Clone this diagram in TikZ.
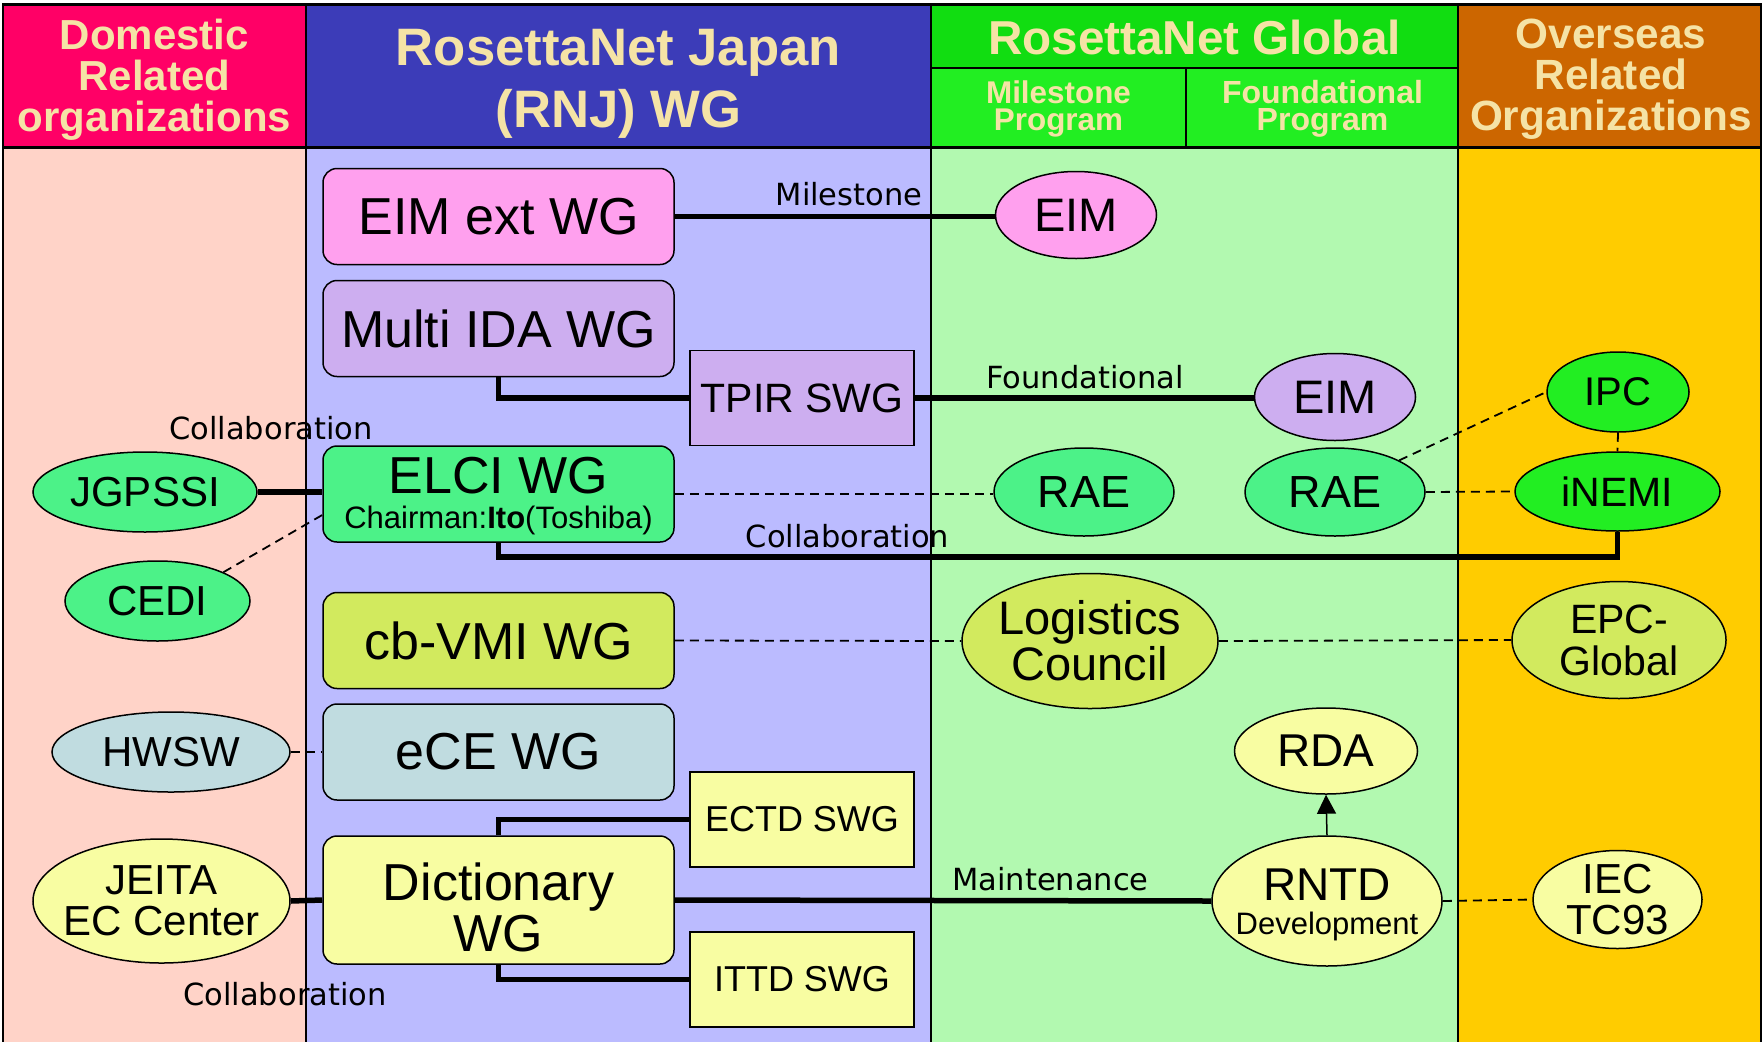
\documentclass[tikz,border=0pt]{standalone}
\usepackage{fontspec}
\setmainfont{Liberation Sans}
\newfontfamily\lblfont{DejaVu Sans}
\usetikzlibrary{shapes.geometric, arrows.meta}

\newcommand{\fsz}[2]{\fontsize{#1}{#2}\selectfont}

\definecolor{domhead}{HTML}{FF0066}
\definecolor{rnjhead}{HTML}{3C3CB8}
\definecolor{rnghead}{HTML}{11DD11}
\definecolor{rngsub}{HTML}{22EE22}
\definecolor{ovhead}{HTML}{CC6600}
\definecolor{hdrtext}{HTML}{F5E3A6}
\definecolor{dombody}{HTML}{FFD3C8}
\definecolor{rnjbody}{HTML}{BBBBFF}
\definecolor{rngbody}{HTML}{B2F9B0}
\definecolor{ovbody}{HTML}{FFCC00}
\definecolor{eimpink}{HTML}{FFA0EE}
\definecolor{idalilac}{HTML}{CDAEF0}
\definecolor{elcigreen}{HTML}{4CF288}
\definecolor{inemigreen}{HTML}{22EE22}
\definecolor{vmiolive}{HTML}{D2EA5E}
\definecolor{eceblue}{HTML}{C0DCE0}
\definecolor{dictyellow}{HTML}{F8FDA2}

\tikzset{
  wgbox/.style={draw, line width=1.5pt, rounded corners=14pt, minimum width=351pt,
    minimum height=96pt, font=\fsz{52}{52}},
  swgbox/.style={draw, line width=1.5pt, minimum width=224pt, minimum height=95pt},
  org/.style 2 args={draw, ellipse, line width=1.5pt, inner sep=0pt, align=center,
    minimum width=#1, minimum height=#2},
  link/.style={line width=5.5pt},
  rel/.style={line width=1.8pt, dash pattern=on 9pt off 6pt},
  lbl/.style={font=\lblfont\fsz{30.5}{36}},
  hdr/.style={text=hdrtext, align=center, font=\bfseries\fsz{42}{41}},
}

\begin{document}
\begin{tikzpicture}[x=1pt, y=-1pt]
\useasboundingbox (0,0) rectangle (1763,1042);

% column backgrounds
\fill[dombody] (3,147) rectangle (306,1042);
\fill[rnjbody] (306,147) rectangle (931,1042);
\fill[rngbody] (931,147) rectangle (1458,1042);
\fill[ovbody] (1458,147) rectangle (1761,1042);
\fill[domhead] (3,4) rectangle (306,147);
\fill[rnjhead] (306,4) rectangle (931,147);
\fill[rnghead] (931,4) rectangle (1458,68);
\fill[rngsub] (931,68) rectangle (1458,147);
\fill[ovhead] (1458,4) rectangle (1761,147);

% rules
\draw[line width=2pt] (3,4) -- (3,1042);
\draw[line width=2pt] (1761,4) -- (1761,1042);
\draw[line width=3pt] (2,4) -- (1762,4);
\draw[line width=3pt] (2,147) -- (1762,147);
\draw[line width=2pt] (306,4) -- (306,1042);
\draw[line width=2pt] (931,4) -- (931,1042);
\draw[line width=2pt] (1458,4) -- (1458,1042);
\draw[line width=2.5pt] (931,68) -- (1458,68);
\draw[line width=1.5pt] (1186,68) -- (1186,147);

% headers
\node[hdr] (domhdr) at (154.5,79.3) {Domestic\\Related\\organizations};
\node[hdr, font=\bfseries\fsz{52.7}{62}] (rnjhdr) at (618.5,83.6) {RosettaNet Japan\\(RNJ) WG};
\node[hdr, font=\bfseries\fsz{47.6}{48}] (rnghdr) at (1194.5,37) {RosettaNet Global};
\node[hdr, font=\bfseries\fsz{31.4}{27}] (mshdr) at (1058.5,108.5) {Milestone\\Program};
\node[hdr, font=\bfseries\fsz{32}{27}] (fdhdr) at (1322.5,108.5) {Foundational\\Program};
\node[hdr, font=\bfseries\fsz{42.3}{41}] (ovhdr) at (1611,79.3) {Overseas\\Related\\Organizations};

% RNJ working groups
\node[wgbox, fill=eimpink] (eimext) at (498.5,216.5) {EIM ext WG};
\node[wgbox, fill=idalilac] (multiida) at (498.5,328.5) {Multi IDA WG};
\node[wgbox, fill=elcigreen, align=center, font=\fsz{52}{35}] (elci) at (498.5,494)
  {\rule{0pt}{41pt}ELCI WG\\\fsz{31}{35}Chairman:\textbf{Ito}(Toshiba)};
\node[wgbox, fill=vmiolive] (cbvmi) at (498.5,640.5) {cb-VMI WG};
\node[wgbox, fill=eceblue] (ece) at (498.5,752) {eCE WG};
\node[wgbox, fill=dictyellow, minimum height=128pt, align=center, font=\fsz{52}{51}] (dict)
  at (498.5,900) {\rule{0pt}{53pt}Dictionary\\WG};
\node[swgbox, fill=idalilac, font=\fsz{41}{41}] (tpir) at (802,398) {TPIR SWG};
\node[swgbox, fill=dictyellow, font=\fsz{36}{36}] (ectd) at (802,819.5) {ECTD SWG};
\node[swgbox, fill=dictyellow, font=\fsz{36}{36}] (ittd) at (802,979.5) {ITTD SWG};

% domestic organizations
\node[org={224pt}{80pt}, fill=elcigreen, font=\fsz{42}{42}] (jgpssi) at (145,492) {JGPSSI};
\node[org={185pt}{80pt}, fill=elcigreen, font=\fsz{42}{42}] (cedi) at (157.5,601) {CEDI};
\node[org={238pt}{80pt}, fill=eceblue, font=\fsz{42}{42}] (hwsw) at (171,752) {HWSW};
\node[org={257pt}{124pt}, fill=dictyellow, font=\fsz{42}{41}, inner xsep=-8pt] (jeita)
  at (161.5,901) {JEITA\\EC Center};

% RosettaNet global
\node[org={161pt}{87pt}, fill=eimpink, font=\fsz{47}{47}] (eimms) at (1076,215) {EIM};
\node[org={161pt}{87pt}, fill=idalilac, font=\fsz{47}{47}] (eimfd) at (1335,397) {EIM};
\node[org={180pt}{88pt}, fill=elcigreen, font=\fsz{45}{45}] (raems) at (1084,492) {RAE};
\node[org={180pt}{88pt}, fill=elcigreen, font=\fsz{45}{45}] (raefd) at (1335,492) {RAE};
\node[org={256pt}{135pt}, fill=vmiolive, font=\fsz{47}{46}, inner xsep=-2pt] (logi)
  at (1090,641) {Logistics\\Council};
\node[org={183pt}{86pt}, fill=dictyellow, font=\fsz{46}{46}] (rda) at (1326,751) {RDA};
\node[org={230pt}{130pt}, fill=dictyellow, font=\fsz{46}{34}, inner xsep=-11pt] (rntd)
  at (1327,901) {\rule{0pt}{40pt}RNTD\\\fsz{31}{34}Development};

% overseas organizations
\node[org={142pt}{80pt}, fill=inemigreen, font=\fsz{40}{40}] (ipc) at (1618,392) {IPC};
\node[org={205pt}{79pt}, fill=inemigreen, font=\fsz{41}{41}] (inemi) at (1617.5,491.5) {iNEMI};
\node[org={214pt}{117pt}, fill=vmiolive, font=\fsz{41}{42}] (epc) at (1619,640) {EPC-\\Global};
\node[org={169pt}{98pt}, fill=dictyellow, font=\fsz{42}{41.5}, inner ysep=-3pt] (iec)
  at (1617.5,899.5) {IEC\\TC93};

% connections
\draw[link] (eimext.east) -- (eimext.east -| eimms.west);
\draw[link] (multiida.south) |- (tpir.west);
\draw[link] (tpir.east) -- (tpir.east -| eimfd.west);
\draw[link] (jgpssi.east) -- (jgpssi.east -| elci.west);
\draw[rel] (cedi.north east) -- ([yshift=-21pt]elci.west);
\draw[rel] (elci.east) -- (elci.east -| raems.west);
\draw[link] (elci.south) -- ++(0,14) -| (inemi.south);
\draw[rel] (raefd.north east) -- (ipc.west);
\draw[rel] (raefd.east) -- (inemi.west);
\draw[rel] (ipc.south) -- (inemi.north);
\draw[rel] (cbvmi.east) -- (logi.west);
\draw[rel] (logi.east) -- (epc.west);
\draw[rel] (hwsw.east) -- (ece.west);
\draw[link] (dict.north) |- (ectd.west);
\draw[link] (dict.south) |- (ittd.west);
\draw[link] (jeita.east) -- (dict.west);
\draw[link] (dict.east) -- (rntd.west);
\draw[-{Triangle[length=19pt,width=19pt]}, line width=1.5pt] (rntd.north) -- (rda.south);
\draw[rel] (rntd.east) -- (iec.west);

% labels
\node[lbl] (mslbl) at (849,194) {Milestone};
\node[lbl] (fdlbl) at (1085,377) {Foundational};
\node[lbl] (colup) at (271,428) {Collaboration};
\node[lbl] (colmid) at (847.5,536) {Collaboration};
\node[lbl] (coldown) at (285,994) {Collaboration};
\node[lbl] (mtlbl) at (1050.5,879) {Maintenance};
\end{tikzpicture}
\end{document}
